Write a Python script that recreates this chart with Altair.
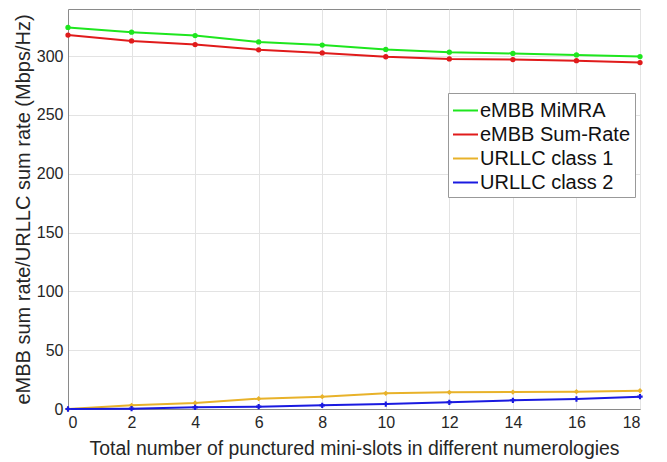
import altair as alt
import pandas as pd

x_vals = [0, 2, 4, 6, 8, 10, 12, 14, 16, 18]
embb_mimra = [324.3, 320.3, 317.4, 312.0, 309.3, 305.6, 303.3, 302.2, 301.0, 299.6]
embb_sumrate = [317.8, 312.9, 309.8, 305.3, 302.7, 299.4, 297.6, 297.0, 296.1, 294.5]
urllc_c1 = [0.0, 3.1, 5.1, 8.8, 10.5, 13.3, 14.2, 14.4, 14.7, 15.5]
urllc_c2 = [0.0, 0.3, 1.4, 2.0, 3.1, 4.2, 5.7, 7.4, 8.5, 10.5]

series_names = ["eMBB MiMRA", "eMBB Sum-Rate", "URLLC class 1", "URLLC class 2"]
series_colors = ["#1ee61e", "#e01b1b", "#e8b22a", "#1a1ae0"]
series_shapes = ["circle", "circle", "diamond", "cross"]
x_ticks = [0, 2, 4, 6, 8, 10, 12, 14, 16, 18]
y_ticks = [0, 50, 100, 150, 200, 250, 300]

rows = []
for name, vals in zip(series_names, [embb_mimra, embb_sumrate, urllc_c1, urllc_c2]):
    for xv, yv in zip(x_vals, vals):
        rows.append({"x": xv, "y": yv, "series": name})
df = pd.DataFrame(rows)

FONT = "Liberation Sans"

xenc = alt.X("x:Q", scale=alt.Scale(domain=[0, 18], nice=False),
             axis=alt.Axis(values=x_ticks, title="Total number of punctured mini-slots in different numerologies",
                           format="d"))
yenc = alt.Y("y:Q", scale=alt.Scale(domain=[0, 340], nice=False),
             axis=alt.Axis(values=y_ticks, title="eMBB sum rate/URLLC sum rate (Mbps/Hz)"))

color_scale = alt.Scale(domain=series_names, range=series_colors)

lines = alt.Chart(df).mark_line(strokeWidth=2).encode(
    x=xenc, y=yenc,
    color=alt.Color("series:N", scale=color_scale, sort=series_names,
                    legend=alt.Legend(title=None, orient="none", legendX=380, legendY=84,
                                      symbolType="stroke", symbolSize=625, symbolStrokeWidth=2,
                                      labelFontSize=20, labelFont=FONT, labelColor="#111111",
                                      strokeColor="#999999", fillColor="white",
                                      padding=4, rowPadding=0, symbolOffset=0,
                                      labelOffset=1, labelLimit=300)),
)

point_layers = []
for name, shape in zip(series_names, series_shapes):
    point_layers.append(
        alt.Chart(df).transform_filter(alt.datum.series == name).mark_point(
            size=28, filled=True, opacity=1, shape=shape
        ).encode(
            x=xenc, y=yenc,
            color=alt.Color("series:N", scale=color_scale, legend=None),
        )
    )

chart = alt.layer(lines, *point_layers).properties(
    width=572, height=400,
    autosize=alt.AutoSizeParams(type="none"),
    padding={"left": 68, "top": 9, "right": 27, "bottom": 53},
    background="white",
).configure_view(
    stroke="#8a8a8a", strokeWidth=1
).configure_axis(
    labelFont=FONT, titleFont=FONT, labelFontSize=16, titleFontSize=19.4,
    labelColor="#262626", titleColor="#262626", titleFontWeight="normal",
    gridColor="#e3e3e3", domainColor="#8a8a8a", tickSize=0, labelPadding=5,
).configure_axisX(
    titlePadding=9
).configure_axisY(
    titlePadding=3, titleFontSize=20
)

chart.save("out.html", embed_options={"renderer": "svg", "actions": False})
